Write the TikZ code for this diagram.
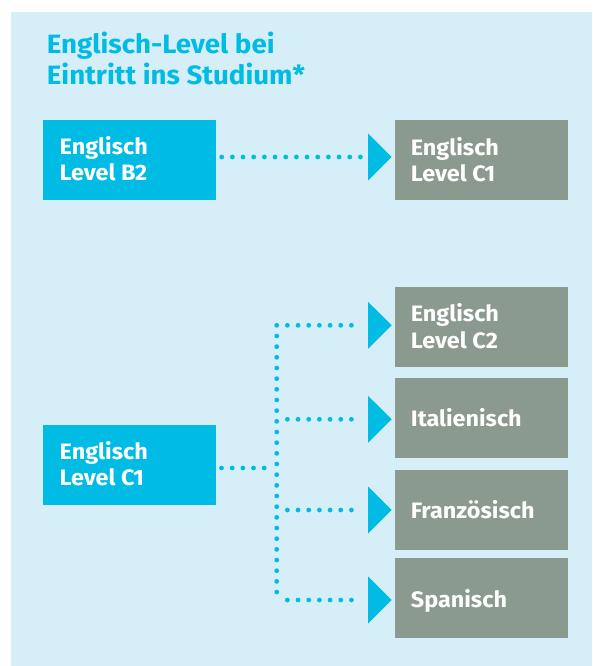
\documentclass[tikz,border=0pt]{standalone}
\usepackage{fontspec}
\setmainfont{Fira Sans}
\newfontfamily\boxfont[FakeStretch=1.05]{Fira Sans}
\newfontfamily\ttlfont[FakeStretch=1.045]{Fira Sans}
\usetikzlibrary{calc}
\definecolor{cyanB}{HTML}{00BCE4}
\definecolor{bgB}{HTML}{D6EEF7}
\definecolor{grayB}{HTML}{8A9A8F}
\tikzset{
  cbox/.style={rectangle, fill=cyanB, draw=none, inner sep=0pt, outer sep=0pt, minimum width=173pt, minimum height=80pt, anchor=north west},
  gbox/.style={rectangle, fill=grayB, draw=none, inner sep=0pt, outer sep=0pt, minimum width=173pt, minimum height=79.5pt, anchor=north west},
  lbl/.style={anchor=base west, inner sep=0pt, text=white, font=\boxfont\fontsize{22.3}{26}\selectfont\bfseries},
  ttl/.style={anchor=base west, inner sep=0pt, text=cyanB, font=\ttlfont\fontsize{26.5}{31}\selectfont\bfseries},
  dots/.style={draw=cyanB, line width=4.8pt, line cap=round, dash pattern=on 0pt off 10.67pt},
  tri/.style={fill=cyanB, draw=none}
}
\newcommand\arrowtri[1]{\fill[tri] ($(#1)+(-27,-23.5)$) -- ($(#1)+(-3.3,0)$) -- ($(#1)+(-27,23.5)$) -- cycle;}
\begin{document}
\begin{tikzpicture}[x=1pt,y=-1pt]
\useasboundingbox (0,0) rectangle (592,666);
\fill[bgB] (11,12) rectangle (592,666);
% title
\node[ttl] (t1) at (46.7,54) {Englisch-Level bei};
\node[ttl] (t2) at (46.7,85) {Eintritt ins Studium*};
% boxes
\node[cbox] (b2) at (43,120) {};
\node[gbox] (c1r) at (395,120) {};
\node[cbox] (c1l) at (43,425) {};
\node[gbox] (c2) at (395,287.3) {};
\node[gbox] (it) at (395,378.3) {};
\node[gbox] (fr) at (395,470) {};
\node[gbox] (sp) at (395,558.3) {};
% labels
\node[lbl] (lb2a) at ($(b2.north west)+(16.5,34)$) {Englisch};
\node[lbl] (lb2b) at ($(b2.north west)+(16.5,60)$) {Level B2};
\node[lbl] (lc1ra) at ($(c1r.north west)+(15.7,35)$) {Englisch};
\node[lbl] (lc1rb) at ($(c1r.north west)+(15.7,61)$) {Level C1};
\node[lbl] (lc1la) at ($(c1l.north west)+(16.5,34)$) {Englisch};
\node[lbl] (lc1lb) at ($(c1l.north west)+(16.5,60)$) {Level C1};
\node[lbl] (lc2a) at ($(c2.north west)+(15.7,34.5)$) {Englisch};
\node[lbl] (lc2b) at ($(c2.north west)+(15.7,61)$) {Level C2};
\node[lbl] (lit) at ($(it.north west)+(15.7,48.4)$) {Italienisch};
\node[lbl] (lfr) at ($(fr.north west)+(15.7,48.3)$) {Französisch};
\node[lbl] (lsp) at ($(sp.north west)+(15.7,49.4)$) {Spanisch};
% top connector
\coordinate (a) at (216,157);
\draw[dots, shorten <=5.7pt, shorten >=33pt] (a) -- (a -| c1r.west);
\arrowtri{a -| c1r.west}
% bottom tree
\coordinate (j) at (276.7,468);
\coordinate (jt) at (276.7,325.3);
\coordinate (ji) at (276.7,419.3);
\coordinate (jf) at (276.7,510);
\coordinate (jb) at (276.7,600);
\draw[dots, shorten <=5.5pt, shorten >=11pt] (j -| c1l.east) -- (j);
\draw[dots] (jt) -- (jb);
\foreach \p/\b in {jt/c2, ji/it, jf/fr, jb/sp}{
  \draw[dots, shorten <=10.67pt, shorten >=33pt] (\p) -- (\p -| \b.west);
  \arrowtri{\p -| \b.west}
}
\end{tikzpicture}
\end{document}
